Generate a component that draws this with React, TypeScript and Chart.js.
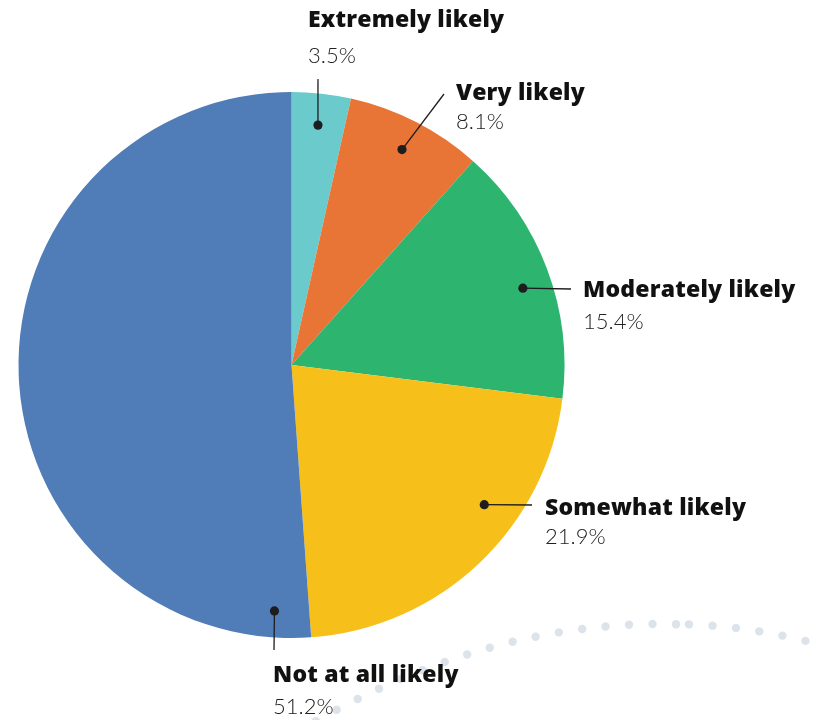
import React, { useEffect, useRef } from "react";
import { Chart, registerables } from "chart.js";

Chart.register(...registerables);

const categories = ["Extremely likely", "Very likely", "Moderately likely", "Somewhat likely", "Not at all likely"];
const values = [3.5, 8.1, 15.4, 21.9, 51.2];
const valueLabels = ["3.5%", "8.1%", "15.4%", "21.9%", "51.2%"];
const colors = ["#6BCACC", "#E87435", "#2DB56F", "#F7BF19", "#507CB8"];

// annotation layout: marker position inside each slice (fraction of angle span, fraction of radius),
// end of the leader line, and label origin (x, name baseline, value baseline)
const markerAngleFrac = [0.5, 0.5, 0.54, 0.366, 0.044];
const markerRadiusFrac = [0.884, 0.887, 0.893, 0.872, 0.903];
const leaderEnds = [
  [318, 79],
  [444, 94],
  [571, 289],
  [532, 505],
  [274, 650],
];
const labelPos = [
  [308, 27, 63],
  [456, 100, 129],
  [583, 297, 329],
  [545, 515, 544],
  [273, 682, 714],
];

const decoPlugin = {
  id: "deco",
  beforeDatasetsDraw(chart: any) {
    const ctx = chart.ctx;
    ctx.save();
    ctx.fillStyle = "#DCE3EA";
    const drawRun = (apexX: number, apexY: number, k: number, startX: number, dir: number, xLimit: number) => {
      let x = startX;
      const step = 23.5;
      while (dir < 0 ? x > xLimit : x < xLimit) {
        const dx = x - apexX;
        const y = apexY + k * dx * dx;
        ctx.beginPath();
        ctx.arc(x, y, 4.2, 0, Math.PI * 2);
        ctx.fill();
        const slope = 2 * k * dx;
        x += (dir * step) / Math.sqrt(1 + slope * slope);
      }
    };
    drawRun(660, 624, 0.00082, 676, -1, 300);
    drawRun(670, 624, 0.00092, 689, 1, 830);
    ctx.restore();
  },
};

const labelPlugin = {
  id: "leaderLabels",
  afterDatasetsDraw(chart: any) {
    const ctx = chart.ctx;
    const meta = chart.getDatasetMeta(0);
    ctx.save();
    meta.data.forEach((arc: any, i: number) => {
      const p = arc.getProps(["x", "y", "startAngle", "endAngle", "outerRadius"], true);
      const a = p.startAngle + (p.endAngle - p.startAngle) * markerAngleFrac[i];
      const r = p.outerRadius * markerRadiusFrac[i];
      const mx = p.x + Math.cos(a) * r;
      const my = p.y + Math.sin(a) * r;
      ctx.strokeStyle = "#1d1d1f";
      ctx.lineWidth = 1.3;
      ctx.beginPath();
      ctx.moveTo(mx, my);
      ctx.lineTo(leaderEnds[i][0], leaderEnds[i][1]);
      ctx.stroke();
      ctx.fillStyle = "#1d1d1f";
      ctx.beginPath();
      ctx.arc(mx, my, 4.6, 0, Math.PI * 2);
      ctx.fill();

      const [lx, by1, by2] = labelPos[i];
      ctx.textAlign = "left";
      ctx.textBaseline = "alphabetic";
      ctx.fillStyle = "#111111";
      ctx.font = "800 23px 'Open Sans', Lato, sans-serif";
      (ctx as any).letterSpacing = "0.2px";
      ctx.fillText(categories[i], lx, by1);
      (ctx as any).letterSpacing = "0px";
      ctx.fillStyle = "#222222";
      ctx.font = "300 22px Lato, 'Open Sans', sans-serif";
      ctx.fillText(valueLabels[i], lx, by2);
    });
    ctx.restore();
  },
};

export default function App() {
  const ref = useRef<HTMLCanvasElement | null>(null);
  useEffect(() => {
    document.body.style.margin = "0";
    const canvas = ref.current;
    if (!canvas) return;
    const chart = new Chart(canvas, {
      type: "pie",
      data: {
        labels: categories,
        datasets: [
          {
            data: values,
            backgroundColor: colors,
            borderWidth: 0,
            hoverOffset: 0,
          },
        ],
      },
      options: {
        responsive: false,
        animation: false,
        devicePixelRatio: 1,
        layout: { padding: { left: 18.5, right: 250.5, top: 92, bottom: 82 } },
        plugins: {
          legend: { display: false },
          tooltip: { enabled: false },
        },
      },
      plugins: [decoPlugin, labelPlugin],
    });
    return () => chart.destroy();
  }, []);
  return (
    <div style={{ width: 815, height: 720, background: "#ffffff" }}>
      <canvas ref={ref} width={815} height={720} style={{ display: "block" }} />
    </div>
  );
}
